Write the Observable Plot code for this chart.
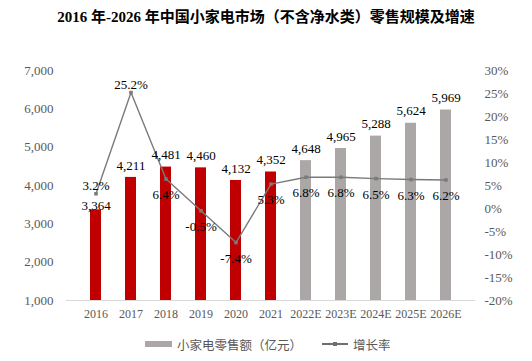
<!DOCTYPE html>
<html><head><meta charset="utf-8">
<script src="https://cdn.jsdelivr.net/npm/d3@7"></script>
<script src="https://cdn.jsdelivr.net/npm/@observablehq/plot@0.6"></script>
<style>
body{margin:0;background:#fff;width:532px;height:361px;overflow:hidden;font-family:"Liberation Serif","Noto Sans CJK SC",serif;}
#title{height:34px;line-height:34px;text-align:center;font-size:15px;font-weight:bold;color:#000;font-family:"Liberation Serif","Noto Sans CJK SC",serif;}
#legend{position:absolute;top:334px;left:0;width:532px;height:20px;font-size:12.5px;color:#595959;font-family:"Noto Sans CJK SC",sans-serif;}
#legend .sw{position:absolute;top:7px;left:145px;width:27px;height:6px;background:#ABA7A7;}
#legend .t1{position:absolute;top:1px;left:177px;}
#legend .ln{position:absolute;top:9px;left:322px;width:26px;height:1.5px;background:#6f6f6f;}
#legend .mk{position:absolute;top:8px;left:333px;width:4px;height:4px;background:#6f6f6f;}
#legend .t2{position:absolute;top:1px;left:353px;}
#chart{position:absolute;top:34px;left:0;}
</style></head>
<body>
<div id="title">2016 年-2026 年中国小家电市场（不含净水类）零售规模及增速</div>
<div id="chart"></div>
<div id="legend"><div class="sw"></div><span class="t1">小家电零售额（亿元）</span><div class="ln"></div><div class="mk"></div><span class="t2">增长率</span></div>
<script>
const years = ["2016","2017","2018","2019","2020","2021","2022E","2023E","2024E","2025E","2026E"];
const sales = [3364,4211,4481,4460,4132,4352,4648,4965,5288,5624,5969];
const growth = [3.2,25.2,6.4,-0.5,-7.4,5.3,6.8,6.8,6.5,6.3,6.2];
const forecast = [false,false,false,false,false,false,true,true,true,true,true];
const leftTicks = [1000,2000,3000,4000,5000,6000,7000];
const rightTicks = [-20,-15,-10,-5,0,5,10,15,20,25,30];

const yMin = 1000, yMax = 7000, rMin = -20, rMax = 30;
const toY = r => yMin + (r - rMin) * (yMax - yMin) / (rMax - rMin);

const data = years.map((y,i)=>({year:y, sales:sales[i], growth:growth[i], gy:toY(growth[i]), forecast:forecast[i], above: i<2}));
// growth label sits just above the bar label when the line point is close above the bar
const close = d => d.above && d.gy > d.sales && d.gy - d.sales < 600;

const fmt = d3.format(",");
const chart = Plot.plot({
  width: 532, height: 300,
  marginTop: 36, marginBottom: 34, marginLeft: 66, marginRight: 57,
  style:{fontFamily:"'Liberation Serif', serif", fontSize:"13px", background:"transparent"},
  x:{domain:years, padding:0.68, label:null},
  y:{domain:[yMin,yMax], label:null},
  marks:[
    Plot.barY(data,{x:"year", y1:yMin, y2:"sales", fill:d=>d.forecast?"#ABA7A7":"#C00000"}),
    Plot.ruleY([yMin],{stroke:"#d9d9d9", strokeWidth:1.2}),
    Plot.axisX({tickSize:0, tickPadding:9, fill:"#595959", fontSize:12}),
    Plot.axisY({ticks:leftTicks, tickSize:0, tickPadding:13, tickFormat:fmt, fill:"#595959", fontSize:13}),
    Plot.axisY({anchor:"right", ticks:rightTicks.map(toY), tickSize:0, tickPadding:9, textAnchor:"start",
      tickFormat:v=>Math.round((v-yMin)*(rMax-rMin)/(yMax-yMin)+rMin)+"%", fill:"#595959", fontSize:13}),
    Plot.line(data,{x:"year", y:"gy", stroke:"#7a7a7a", strokeWidth:1.4}),
    Plot.dot(data,{x:"year", y:"gy", symbol:"square", r:2, fill:"#7a7a7a"}),
    Plot.text(data,{x:"year", y:"sales", text:d=>fmt(d.sales), dy:-12, fill:"#000", fontSize:13, filter:d=>!close(d)}),
    Plot.text(data,{x:"year", y:"sales", text:d=>fmt(d.sales), dy:-4, fill:"#000", fontSize:13, filter:close}),
    Plot.text(data,{x:"year", y:"gy", text:d=>d.growth.toFixed(1)+"%", fill:"#000", fontSize:13,
      filter:d=>d.above, dy:-8}),
    Plot.text(data,{x:"year", y:"gy", text:d=>d.growth.toFixed(1)+"%", fill:"#000", fontSize:13,
      filter:d=>!d.above, dy:16})
  ]
});
document.getElementById("chart").appendChild(chart);
</script>
</body></html>
